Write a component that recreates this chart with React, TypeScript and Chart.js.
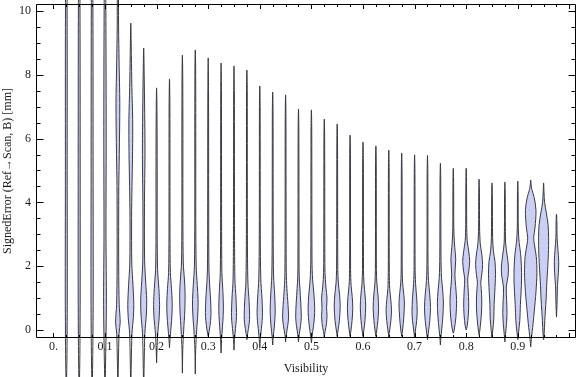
import React, { useEffect, useRef } from 'react';
import { Chart, registerables } from 'chart.js';

Chart.register(...registerables);

// ---- data -------------------------------------------------------------
const VISIBILITY = [
  0.025, 0.05, 0.075, 0.1, 0.125, 0.15, 0.175, 0.2, 0.225, 0.25, 0.275, 0.3, 0.325,
  0.35, 0.375, 0.4, 0.425, 0.45, 0.475, 0.5, 0.525, 0.55, 0.575, 0.6, 0.625, 0.65,
  0.675, 0.7, 0.725, 0.75, 0.775, 0.8, 0.825, 0.85, 0.875, 0.9, 0.925, 0.95, 0.975,
];

const ERROR_MIN = [
  -2, -2, -2, -2, -2, -2, -2, -1.03, -0.56, -1.35, -1.38, -0.2, -0.72,
  -0.63, -0.3, -0.56, -0.47, -0.37, -0.37, -0.4, -0.22, -0.2, -0.2, -0.2, -0.2, -0.22,
  -0.2, -0.25, -0.3, -0.47, -0.1, 0.0, -0.16, -0.25, -0.37, -0.3, -0.53, -0.3, 0.41,
];

const ERROR_MAX = [
  11.5, 11.5, 11.5, 11.5, 11.5, 9.62, 8.84, 7.59, 7.87, 8.62, 8.78, 8.53, 8.37,
  8.28, 8.15, 7.65, 7.46, 7.37, 6.93, 6.9, 6.61, 6.46, 6.11, 5.89, 5.77, 5.64,
  5.55, 5.49, 5.47, 5.23, 5.07, 5.07, 4.73, 4.61, 4.64, 4.67, 4.7, 4.61, 3.63,
];

// density profiles: [signed error, relative density]
const DENSITY: [number, number][][] = [
  [[-1, 0.6], [1, 1.0], [5, 0.9], [9, 0.9], [11, 0.6]],
  [[-1, 0.6], [1, 1.0], [5, 1.0], [9, 0.9], [11, 0.6]],
  [[-1, 0.6], [1, 1.1], [5, 1.0], [9, 0.9], [11, 0.6]],
  [[-1, 0.6], [0.8, 1.4], [3, 1.0], [6, 1.2], [9, 1.0], [11, 0.6]],
  [[-1, 0.5], [-0.1, 1.2], [0.25, 2.3], [0.8, 1.3], [2, 0.8], [4.5, 0.9], [5.5, 1.4], [7.1, 1.9], [8.4, 1.2], [9.5, 0.7], [11, 0.5]],
  [[-1, 0.5], [-0.1, 1.2], [0.4, 2.6], [0.8, 3.0], [1.4, 2.2], [2.1, 1.0], [3.5, 0.8], [4.5, 1.2], [5.6, 1.8], [6.6, 1.9], [7.6, 1.1], [8.6, 0.6]],
  [[-1, 0.5], [-0.1, 1.2], [0.5, 2.7], [0.95, 3.0], [1.5, 2.0], [2.2, 0.9], [4, 0.8], [5.5, 1.3], [6.5, 1.1], [7.8, 0.6]],
  [[-0.6, 0.4], [-0.1, 1.2], [0.4, 2.6], [0.8, 3.0], [1.3, 2.3], [1.9, 1.0], [3, 0.6], [5, 0.6], [6.8, 0.4]],
  [[-0.3, 0.5], [0.1, 1.6], [0.5, 2.5], [0.85, 2.7], [1.3, 2.0], [1.8, 0.9], [3, 0.5], [6, 0.45], [7.2, 0.35]],
  [[-0.6, 0.4], [0, 1.3], [0.6, 2.4], [1.15, 2.7], [1.6, 2.0], [2.1, 0.9], [3.5, 0.5], [6, 0.5], [8, 0.35]],
  [[-0.6, 0.4], [0, 1.4], [0.5, 2.5], [0.95, 2.8], [1.4, 2.0], [2.0, 0.9], [3.5, 0.5], [6, 0.5], [8.2, 0.35]],
  [[0, 1.2], [0.3, 2.4], [0.55, 2.8], [1.0, 2.3], [1.5, 1.3], [2.0, 0.7], [4, 0.5], [7.5, 0.35]],
  [[-0.3, 0.5], [0.1, 1.4], [0.45, 2.1], [0.75, 2.3], [1.2, 1.8], [1.8, 0.8], [3.5, 0.5], [7.5, 0.35]],
  [[-0.3, 0.5], [0.05, 1.5], [0.3, 2.3], [0.55, 2.5], [1.0, 2.0], [1.6, 0.9], [3.5, 0.5], [7.5, 0.35]],
  [[-0.1, 0.8], [0.2, 2.3], [0.45, 2.7], [0.9, 2.2], [1.5, 1.0], [3, 0.5], [7.5, 0.35]],
  [[-0.3, 0.5], [0.05, 1.6], [0.3, 2.4], [0.55, 2.7], [1.0, 2.2], [1.6, 1.0], [3, 0.5], [7, 0.35]],
  [[-0.2, 0.6], [0.1, 1.6], [0.4, 2.3], [0.65, 2.5], [1.1, 2.0], [1.7, 0.9], [3, 0.5], [6.8, 0.35]],
  [[-0.15, 0.7], [0.15, 2.2], [0.4, 3.0], [0.8, 2.4], [1.3, 1.3], [1.8, 0.7], [3, 0.5], [6.7, 0.35]],
  [[-0.15, 0.7], [0.15, 2.1], [0.4, 2.8], [0.85, 2.3], [1.3, 1.4], [1.7, 0.7], [3, 0.5], [6.3, 0.35]],
  [[-0.2, 0.7], [0.1, 2.0], [0.4, 3.0], [0.7, 3.3], [1.1, 2.6], [1.6, 1.2], [2.2, 0.6], [6.3, 0.35]],
  [[-0.05, 0.8], [0.2, 2.2], [0.45, 2.7], [0.7, 2.3], [1.0, 2.7], [1.35, 1.6], [1.8, 0.7], [3, 0.5], [6, 0.35]],
  [[0, 0.9], [0.3, 2.2], [0.75, 3.0], [1.1, 2.4], [1.45, 1.2], [1.9, 0.6], [5.8, 0.35]],
  [[0, 0.9], [0.3, 2.0], [0.7, 2.7], [1.05, 2.1], [1.4, 1.0], [1.9, 0.5], [5.5, 0.35]],
  [[0, 0.9], [0.3, 2.0], [0.75, 2.7], [1.1, 2.1], [1.45, 1.0], [1.9, 0.5], [5.3, 0.35]],
  [[0, 0.9], [0.3, 2.0], [0.7, 2.7], [1.1, 2.1], [1.45, 1.0], [1.9, 0.5], [5.2, 0.35]],
  [[0, 0.9], [0.3, 2.1], [0.63, 2.7], [0.95, 2.0], [1.3, 0.9], [1.8, 0.5], [5.1, 0.35]],
  [[0, 0.9], [0.4, 2.1], [0.85, 2.7], [1.15, 2.0], [1.5, 0.9], [2, 0.5], [5, 0.35]],
  [[0, 0.9], [0.3, 2.1], [0.6, 2.6], [1.0, 2.1], [1.45, 1.0], [2, 0.5], [4.9, 0.35]],
  [[-0.1, 0.8], [0.3, 2.3], [0.7, 3.0], [1.1, 2.3], [1.55, 1.0], [2.2, 0.5], [4.9, 0.35]],
  [[-0.2, 0.6], [0.2, 1.9], [0.5, 2.6], [0.85, 3.0], [1.25, 2.3], [1.65, 1.1], [2.3, 0.6], [4.7, 0.35]],
  [[0, 0.9], [0.4, 2.6], [0.95, 3.3], [1.4, 2.3], [1.75, 1.6], [2.2, 2.4], [2.7, 1.2], [3.2, 0.5], [4.6, 0.35]],
  [[0.1, 0.9], [0.5, 2.2], [0.85, 2.5], [1.25, 2.0], [1.6, 1.5], [1.85, 2.6], [2.15, 3.5], [2.45, 2.6], [2.8, 1.0], [3.3, 0.5], [4.6, 0.35]],
  [[0, 0.8], [0.5, 2.3], [0.94, 2.7], [1.3, 2.1], [1.5, 1.7], [1.75, 2.7], [2.05, 3.5], [2.35, 2.8], [2.7, 1.2], [3.2, 0.5], [4.3, 0.35]],
  [[0, 0.8], [0.35, 1.8], [0.8, 2.1], [1.2, 2.8], [1.75, 3.5], [2.15, 3.0], [2.45, 1.5], [2.9, 0.6], [4.2, 0.35]],
  [[-0.15, 0.6], [0.2, 1.6], [0.55, 2.1], [0.95, 1.7], [1.35, 1.4], [1.7, 3.2], [2.0, 3.5], [2.35, 2.2], [2.7, 0.8], [3.2, 0.45], [4.2, 0.35]],
  [[-0.1, 0.7], [0.3, 2.0], [0.8, 2.6], [1.2, 3.3], [1.6, 3.8], [2.0, 3.6], [2.4, 2.8], [2.75, 1.3], [3.2, 0.5], [4.2, 0.35]],
  [[-0.3, 0.6], [0.2, 2.4], [0.6, 3.6], [1.2, 5.3], [1.8, 6.2], [2.3, 5.6], [2.7, 3.6], [2.9, 3.0], [3.2, 4.3], [3.75, 5.3], [4.15, 3.5], [4.4, 1.2], [4.55, 0.45]],
  [[-0.15, 0.5], [0.3, 1.2], [0.6, 1.8], [1.0, 2.6], [1.4, 3.1], [1.9, 4.0], [2.4, 4.8], [2.9, 5.0], [3.3, 4.5], [3.7, 2.6], [4.0, 1.0], [4.3, 0.45]],
  [[0.8, 0.5], [1.4, 1.0], [1.8, 1.9], [2.15, 2.2], [2.5, 1.5], [2.9, 0.6], [3.4, 0.4]],
];

const Y_TICKS = [0, 2, 4, 6, 8, 10];
const Y_TICK_LABELS = ['0', '2', '4', '6', '8', '10'];
const X_TICKS = [0, 0.1, 0.2, 0.3, 0.4, 0.5, 0.6, 0.7, 0.8, 0.9];
const X_TICK_LABELS = ['0.', '0.1', '0.2', '0.3', '0.4', '0.5', '0.6', '0.7', '0.8', '0.9'];

const X_TITLE = 'Visibility';
const Y_TITLE = 'SignedError (Ref\u2192Scan, B) [mm]';

// ---- style ------------------------------------------------------------
const X_RANGE = [-0.0337, 1.0128];
const Y_RANGE = [-0.2508, 10.2194];
const WIDTH_PER_DENSITY = 1 / 516;
const FILL = 'rgb(202, 208, 244)';
const EDGE = 'rgba(50, 50, 58, 0.95)';
const FONT = { family: "'Liberation Serif', 'Times New Roman', serif", size: 12 };
const TEXT_COLOR = '#1a1a1a';

function violinOutline(i: number) {
  const v = VISIBILITY[i];
  const prof = DENSITY[i];
  const pts: { x: number; y: number }[] = [{ x: v, y: ERROR_MIN[i] }];
  for (const [y, d] of prof) pts.push({ x: v + d * WIDTH_PER_DENSITY, y });
  pts.push({ x: v, y: ERROR_MAX[i] });
  for (let j = prof.length - 1; j >= 0; j--) {
    const [y, d] = prof[j];
    pts.push({ x: v - d * WIDTH_PER_DENSITY, y });
  }
  pts.push({ x: v, y: ERROR_MIN[i] });
  return pts;
}

const frameTicks = {
  id: 'frameTicks',
  afterDatasetsDraw(chart: any) {
    const { ctx, chartArea: a, scales } = chart;
    const xs = scales.x;
    const ys = scales.y;
    const L = Math.round(a.left) + 0.5;
    const R = Math.round(a.right) - 0.5;
    const T = Math.round(a.top) + 0.5;
    const B = Math.round(a.bottom) - 0.5;
    ctx.save();
    ctx.strokeStyle = '#000';
    ctx.lineWidth = 1;
    ctx.beginPath();
    ctx.rect(L, T, R - L, B - T);
    for (let i = 0; i <= 40; i++) {
      const v = i * 0.025;
      const px = Math.round(xs.getPixelForValue(v)) + 0.5;
      if (px < L || px > R) continue;
      const len = i % 4 === 0 ? 4.5 : 2.5;
      ctx.moveTo(px, B);
      ctx.lineTo(px, B - len);
      ctx.moveTo(px, T);
      ctx.lineTo(px, T + len);
    }
    for (let i = 0; i <= 20; i++) {
      const v = i * 0.5;
      const py = Math.round(ys.getPixelForValue(v)) + 0.5;
      if (py < T || py > B) continue;
      const len = i % 4 === 0 ? 7 : 4;
      ctx.moveTo(L, py);
      ctx.lineTo(L + len, py);
      ctx.moveTo(R, py);
      ctx.lineTo(R - len, py);
    }
    ctx.stroke();
    ctx.restore();
  },
};

export default function App() {
  const ref = useRef<HTMLCanvasElement | null>(null);

  useEffect(() => {
    if (!ref.current) return;
    const datasets = VISIBILITY.map((_, i) => ({
      data: violinOutline(i),
      borderColor: EDGE,
      borderWidth: 1,
      backgroundColor: FILL,
      fill: 'shape',
      tension: 0.3,
      pointRadius: 0,
      pointHoverRadius: 0,
      clip: false,
    }));

    const chart = new Chart(ref.current, {
      type: 'line',
      data: { datasets } as any,
      options: {
        animation: false,
        responsive: false,
        devicePixelRatio: 1,
        events: [],
        layout: { padding: { top: 4, left: 0, right: 0, bottom: 0 } },
        elements: { line: { capBezierPoints: false } as any },
        plugins: {
          legend: { display: false },
          tooltip: { enabled: false },
        },
        scales: {
          x: {
            type: 'linear',
            min: X_RANGE[0],
            max: X_RANGE[1],
            grid: { display: false, drawTicks: false },
            border: { display: false },
            afterBuildTicks: (s: any) => {
              s.ticks = X_TICKS.map((value) => ({ value }));
            },
            afterFit: (s: any) => {
              s.height = 39;
              s.paddingLeft = 0;
              s.paddingRight = 0;
            },
            ticks: {
              autoSkip: false,
              maxRotation: 0,
              padding: 2,
              font: FONT,
              color: TEXT_COLOR,
              callback: (_v: any, idx: number) => X_TICK_LABELS[idx],
            },
            title: {
              display: true,
              text: X_TITLE,
              font: FONT,
              color: TEXT_COLOR,
              padding: { top: 0, bottom: 1 },
            },
          },
          y: {
            type: 'linear',
            min: Y_RANGE[0],
            max: Y_RANGE[1],
            grid: { display: false, drawTicks: false },
            border: { display: false },
            afterBuildTicks: (s: any) => {
              s.ticks = Y_TICKS.map((value) => ({ value }));
            },
            afterFit: (s: any) => {
              s.width = 36;
              s.paddingTop = 0;
              s.paddingBottom = 0;
            },
            ticks: {
              autoSkip: false,
              padding: 5,
              font: FONT,
              color: TEXT_COLOR,
              callback: (_v: any, idx: number) => Y_TICK_LABELS[idx],
            },
            title: {
              display: true,
              text: Y_TITLE,
              font: FONT,
              color: TEXT_COLOR,
              padding: { top: 1, bottom: 0 },
            },
          },
        },
      } as any,
      plugins: [frameTicks],
    });
    return () => chart.destroy();
  }, []);

  return (
    <div style={{ position: 'fixed', left: 0, top: 0, width: 576, height: 377, background: '#fff' }}>
      <canvas ref={ref} width={576} height={377} style={{ display: 'block', width: 576, height: 377 }} />
    </div>
  );
}
